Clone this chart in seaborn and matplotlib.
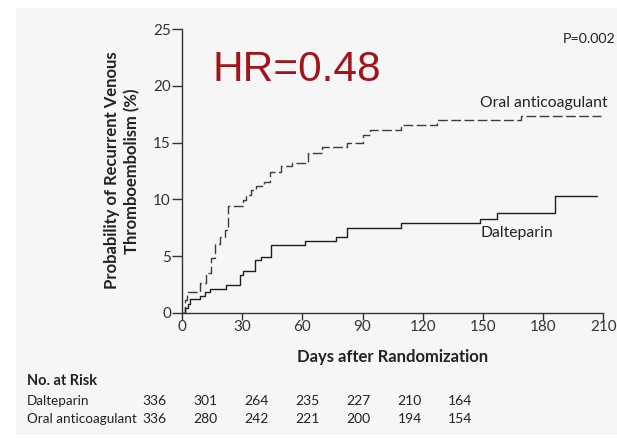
import matplotlib
matplotlib.use("Agg")
import matplotlib.pyplot as plt
import seaborn as sns
import pandas as pd
from matplotlib.patches import Rectangle

# ---- data ----
oral_days = [0, 1.3, 2.5, 8.8, 12, 14.6, 16.3, 18.8, 21.3, 23, 30.4, 32, 34.6, 37, 41,
             43.7, 49.5, 55, 62.9, 70, 82, 90, 93.6, 109, 127, 169, 209]
oral_pct = [0, 1.1, 1.85, 2.6, 3.5, 4.8, 6.1, 6.7, 7.3, 9.45, 9.9, 10.4, 10.8, 11.2, 11.5,
            12.4, 12.9, 13.2, 14.1, 14.6, 15.0, 15.7, 16.1, 16.6, 17.0, 17.35, 17.35]
dalt_days = [0, 1.3, 3, 3.8, 8.8, 11.3, 13.8, 22, 28.8, 30.4, 36.2, 39.6, 44.6, 61.2,
             77, 82, 109.4, 148.5, 156.8, 185.9, 206.7]
dalt_pct = [0, 0.4, 0.8, 1.2, 1.5, 1.85, 2.06, 2.4, 3.3, 3.7, 4.65, 4.95, 5.97, 6.3,
            6.7, 7.45, 7.9, 8.3, 8.8, 10.3, 10.3]

groups = ["Oral anticoagulant", "Dalteparin"]
x_ticks = [0, 30, 60, 90, 120, 150, 180, 210]
y_ticks = [0, 5, 10, 15, 20, 25]
risk_dalteparin = [336, 301, 264, 235, 227, 210, 164]
risk_oral = [336, 280, 242, 221, 200, 194, 154]
hr_text = "HR=0.48"
p_text = "P=0.002"
ylabel_lines = ["Probability of Recurrent Venous", "Thromboembolism (%)"]
xlabel = "Days after Randomization"

df = pd.DataFrame({
    "day": oral_days + dalt_days,
    "pct": oral_pct + dalt_pct,
    "group": [groups[0]] * len(oral_days) + [groups[1]] * len(dalt_days),
})

sns.set_style("ticks")
plt.rcParams["font.family"] = ["Lato", "DejaVu Sans"]

W, H = 617, 438
fig = plt.figure(figsize=(W / 100, H / 100), dpi=100)
fig.patch.set_facecolor("white")
fig.patches.append(Rectangle((16 / W, 3 / H), 1 - 16 / W, (435 - 8) / H,
                             transform=fig.transFigure, facecolor="#f6f6f6",
                             edgecolor="none", zorder=-10))

ax = fig.add_axes([182 / W, 1 - 312.7 / H, (603.3 - 182) / W, (312.7 - 29.3) / H])
ax.set_facecolor("none")

sns.lineplot(data=df, x="day", y="pct", hue="group", style="group",
             hue_order=groups, style_order=groups,
             palette={groups[0]: "#3c3c3c", groups[1]: "#1e1e1e"},
             dashes={groups[0]: (7, 2.5), groups[1]: ""},
             estimator=None, sort=True, drawstyle="steps-post",
             linewidth=1.0, legend=False, ax=ax)

ax.set_xlim(0, 210)
ax.set_ylim(0, 25)
ax.set_xticks(x_ticks)
ax.set_yticks(y_ticks)
sns.despine(ax=ax)
for s in ["left", "bottom"]:
    ax.spines[s].set_color("#333333")
    ax.spines[s].set_linewidth(1.0)
ax.tick_params(axis="both", direction="out", width=1.0, color="#333333",
               labelsize=11, labelcolor="#333333")
ax.tick_params(axis="x", length=5, pad=0)
ax.tick_params(axis="y", length=7, pad=1)
ax.set_xlabel("")
ax.set_ylabel("")

# axis titles
fig.text(393 / W, 1 - 357 / H, xlabel, ha="center", va="center",
         fontsize=12, fontweight="bold", color="#222222")
fig.text(111.7 / W, 1 - 170 / H, ylabel_lines[0], ha="center", va="center",
         rotation=90, fontsize=12, fontweight="bold", color="#222222")
fig.text(131.7 / W, 1 - 171 / H, ylabel_lines[1], ha="center", va="center",
         rotation=90, fontsize=12, fontweight="bold", color="#222222")

# annotations
fig.text(212.5 / W, 1 - 80.7 / H, hr_text, ha="left", va="baseline", fontsize=30.5,
         color="#a0151c", family=["Liberation Sans", "DejaVu Sans"])
fig.text(615 / W, 1 - 39 / H, p_text, ha="right", va="center", fontsize=10.3,
         color="#222222")
fig.text(480 / W, 1 - 103.3 / H, groups[0], ha="left", va="center", fontsize=11.3,
         color="#222222")
fig.text(480 / W, 1 - 233 / H, groups[1], ha="left", va="center", fontsize=11.3,
         color="#222222")

# number at risk table
fig.text(27 / W, 1 - 380.7 / H, "No. at Risk", ha="left", va="center", fontsize=10.5,
         fontweight="bold", color="#222222")
rows = [(groups[1], risk_dalteparin, 400.7), (groups[0], risk_oral, 419.3)]
for name, vals, yy in rows:
    fig.text(27 / W, 1 - yy / H, name, ha="left", va="center", fontsize=9.7,
             color="#222222")
    for i, v in enumerate(vals):
        fig.text((154.5 + 51 * i) / W, 1 - yy / H, str(v), ha="center", va="center",
                 fontsize=10, color="#222222")

fig.savefig("out.png", dpi=100, facecolor=fig.get_facecolor())
